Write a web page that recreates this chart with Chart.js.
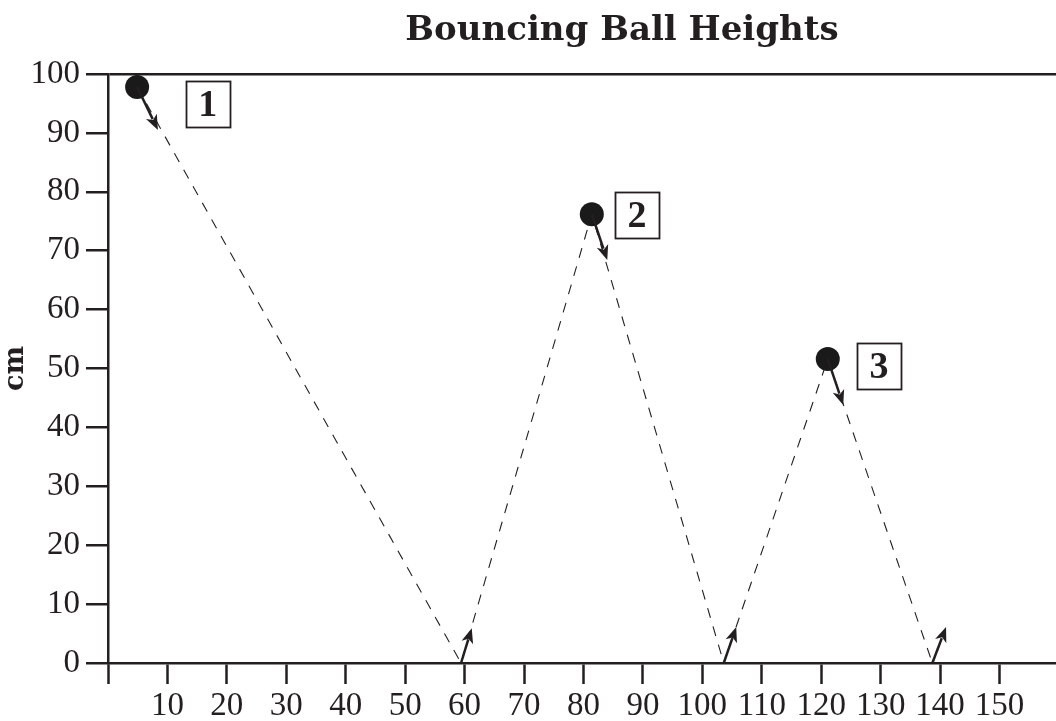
<!DOCTYPE html>
<html>
<head>
<meta charset="utf-8">
<script src="https://cdn.jsdelivr.net/npm/chart.js"></script>
<style>
  html, body { margin: 0; padding: 0; background: #fff; }
  #wrap { width: 1056px; height: 721px; }
</style>
</head>
<body>
<div id="wrap"><canvas id="myChart" width="1056" height="721"></canvas></div>
<script>
// 공의 경로 (거리, 높이 cm)
const pathX = [4.9, 59.4, 81.4, 103.6, 121.1, 138.7];
const pathY = [97.8, 0, 76.2, 0, 51.6, 0];

// 공 위치
const ballX = [4.9, 81.4, 121.1];
const ballY = [97.8, 76.2, 51.6];

// 번호 상자
const boxLabels = ['1', '2', '3'];
const boxX = [16.8, 89.0, 129.7];
const boxY = [94.9, 76.1, 50.4];

// 화살표 (시작 -> 끝)
const arrowX0 = [4.9, 81.4, 121.1, 59.4, 103.6, 138.7];
const arrowY0 = [97.8, 76.2, 51.6, 0, 0, 0];
const arrowX1 = [8.4, 84.0, 123.7, 61.2, 105.7, 141.0];
const arrowY1 = [90.5, 68.4, 43.8, 5.9, 6.1, 6.1];

const xTicks = [0, 10, 20, 30, 40, 50, 60, 70, 80, 90, 100, 110, 120, 130, 140, 150];
const yTicks = [0, 10, 20, 30, 40, 50, 60, 70, 80, 90, 100];

const ink = '#231f20';

// 제목, 화살표, 번호 상자 그리기
const extras = {
  id: 'extras',
  afterDatasetsDraw(chart) {
    const ctx = chart.ctx;
    const xs = chart.scales.x, ys = chart.scales.y;
    ctx.save();
    ctx.strokeStyle = ink;
    ctx.fillStyle = ink;
    ctx.lineWidth = 2.5;
    for (let i = 0; i < arrowX0.length; i++) {
      const x0 = xs.getPixelForValue(arrowX0[i]), y0 = ys.getPixelForValue(arrowY0[i]);
      const x1 = xs.getPixelForValue(arrowX1[i]), y1 = ys.getPixelForValue(arrowY1[i]);
      const a = Math.atan2(y1 - y0, x1 - x0);
      const hl = 15, hw = 6;
      const bx = x1 - hl * Math.cos(a), by = y1 - hl * Math.sin(a);
      ctx.beginPath();
      ctx.moveTo(x0, y0);
      ctx.lineTo(bx + 3 * Math.cos(a), by + 3 * Math.sin(a));
      ctx.stroke();
      ctx.beginPath();
      ctx.moveTo(x1, y1);
      ctx.lineTo(bx + hw * Math.sin(a), by - hw * Math.cos(a));
      ctx.lineTo(bx + 4 * Math.cos(a), by + 4 * Math.sin(a));
      ctx.lineTo(bx - hw * Math.sin(a), by + hw * Math.cos(a));
      ctx.closePath();
      ctx.fill();
    }
    // 번호 상자
    ctx.lineWidth = 1.8;
    ctx.font = 'bold 38px "Liberation Serif"';
    ctx.textAlign = 'center';
    ctx.textBaseline = 'middle';
    for (let i = 0; i < boxLabels.length; i++) {
      const cx = xs.getPixelForValue(boxX[i]), cy = ys.getPixelForValue(boxY[i]);
      ctx.strokeRect(Math.round(cx - 22) + 0.5, Math.round(cy - 23) + 0.5, 44, 46);
      ctx.fillText(boxLabels[i], cx, cy + 2);
    }
    ctx.restore();
  },
  afterDraw(chart) {
    const ctx = chart.ctx;
    ctx.save();
    ctx.fillStyle = ink;
    ctx.font = 'bold 34px "DejaVu Serif"';
    ctx.textAlign = 'center';
    ctx.textBaseline = 'alphabetic';
    ctx.fillText('Bouncing Ball Heights', 622, 40);
    ctx.restore();
  }
};

new Chart(document.getElementById('myChart'), {
  data: {
    datasets: [
      {
        type: 'scatter',
        label: 'ball',
        data: ballX.map((x, i) => ({ x: x, y: ballY[i] })),
        pointRadius: 12,
        pointHoverRadius: 12,
        backgroundColor: '#1a1a1a',
        borderWidth: 0,
        order: 0
      },
      {
        type: 'line',
        label: 'path',
        data: pathX.map((x, i) => ({ x: x, y: pathY[i] })),
        borderColor: ink,
        borderWidth: 1.1,
        borderDash: [10, 9],
        pointRadius: 0,
        tension: 0,
        fill: false,
        order: 1
      }
    ]
  },
  plugins: [extras],
  options: {
    responsive: false,
    animation: false,
    layout: { autoPadding: false, padding: { top: 74, left: 0, right: 0, bottom: 0 } },
    plugins: {
      legend: { display: false },
      tooltip: { enabled: false },
      title: { display: false }
    },
    scales: {
      x: {
        type: 'linear',
        min: 0,
        max: 159.5,
        afterFit: s => { s.height = 58; s.paddingLeft = 0; s.paddingRight = 0; },
        afterBuildTicks: s => { s.ticks = xTicks.map(v => ({ value: v })); },
        border: { display: true, color: ink, width: 2.5 },
        grid: { drawOnChartArea: false, drawTicks: true, tickLength: 21, tickColor: ink, tickWidth: 2.5 },
        ticks: {
          color: ink,
          padding: 3,
          maxRotation: 0,
          autoSkip: false,
          font: { family: '"Liberation Serif"', size: 33 },
          callback: v => (v === 0 ? '' : String(v))
        }
      },
      y: {
        type: 'linear',
        min: 0,
        max: 100,
        afterFit: s => { s.width = 108; s.paddingTop = 0; s.paddingBottom = 0; },
        afterBuildTicks: s => { s.ticks = yTicks.map(v => ({ value: v })); },
        border: { display: true, color: ink, width: 2.5 },
        grid: {
          drawOnChartArea: true,
          drawTicks: true,
          tickLength: 22,
          tickColor: ink,
          tickWidth: 2.5,
          lineWidth: 2.5,
          color: c => (c.tick && c.tick.value === 100 ? ink : 'rgba(0,0,0,0)')
        },
        title: {
          display: true,
          text: 'cm',
          color: ink,
          padding: 0,
          font: { family: '"DejaVu Serif"', size: 27, weight: 'bold' }
        },
        ticks: {
          color: ink,
          padding: 6,
          font: { family: '"Liberation Serif"', size: 33 }
        }
      }
    }
  }
});
</script>
</body>
</html>
